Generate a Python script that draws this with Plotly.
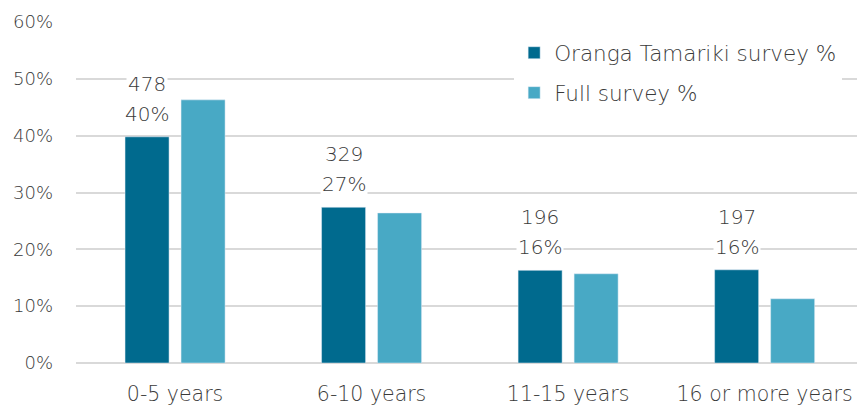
import plotly.graph_objects as go

# Length of service groups
categories = ["0-5 years", "6-10 years", "11-15 years", "16 or more years"]
# Respondent counts in the Oranga Tamariki survey
ot_counts = [478, 329, 196, 197]
# Share of respondents (fractions)
ot_share = [0.398, 0.274, 0.163, 0.164]
full_share = [0.463, 0.264, 0.157, 0.113]
y_ticks = [0, 0.1, 0.2, 0.3, 0.4, 0.5, 0.6]

DARK = "#006A8E"
LIGHT = "#48A9C5"
TEXT = "#3A3A3A"
FONT = "DejaVu Sans"


def font(size):
    return dict(family=FONT, size=size, color=TEXT, weight=300)


fig = go.Figure()
fig.add_trace(go.Bar(
    x=categories, y=ot_share, name="Oranga Tamariki survey %",
    marker=dict(color=DARK), legendgroup="a",
))
fig.add_trace(go.Bar(
    x=categories, y=full_share, name="Full survey %",
    marker=dict(color=LIGHT), legendgroup="b",
))

# Count and percentage labels above the Oranga Tamariki bars
for cat, cnt, val in zip(categories, ot_counts, ot_share):
    fig.add_annotation(
        x=cat, y=val, xref="x", yref="y", text=f"{val:.0%}",
        showarrow=False, xshift=-28, yshift=23, yanchor="middle",
        bgcolor="white", borderpad=1, font=font(20),
    )
    fig.add_annotation(
        x=cat, y=val, xref="x", yref="y", text=str(cnt),
        showarrow=False, xshift=-28, yshift=53, yanchor="middle",
        bgcolor="white", borderpad=1, font=font(20),
    )

fig.update_layout(
    width=857, height=405,
    margin=dict(l=76, r=0, t=22, b=42),
    paper_bgcolor="white", plot_bgcolor="white",
    barmode="group", bargap=0.43, bargroupgap=0.214,
    font=font(19),
    legend=dict(
        x=0.561, y=0.97, xanchor="left", yanchor="top",
        bgcolor="white", font=font(21.5),
        tracegroupgap=9, traceorder="grouped",
        itemwidth=30,
    ),
    xaxis=dict(
        range=[-0.504, 3.47], showgrid=False, showline=False,
        ticks="", tickfont=font(20.5), automargin=False,
        ticklabelstandoff=16,
    ),
    yaxis=dict(
        range=[0, 0.6], tickvals=y_ticks, tickformat=".0%",
        showgrid=True, gridcolor="#D9D9D9", gridwidth=1.5,
        zeroline=True, zerolinecolor="#D9D9D9", zerolinewidth=1.5,
        ticks="", tickfont=font(18), automargin=False,
        ticklabelstandoff=22,
    ),
)

fig.write_html("out.html")
